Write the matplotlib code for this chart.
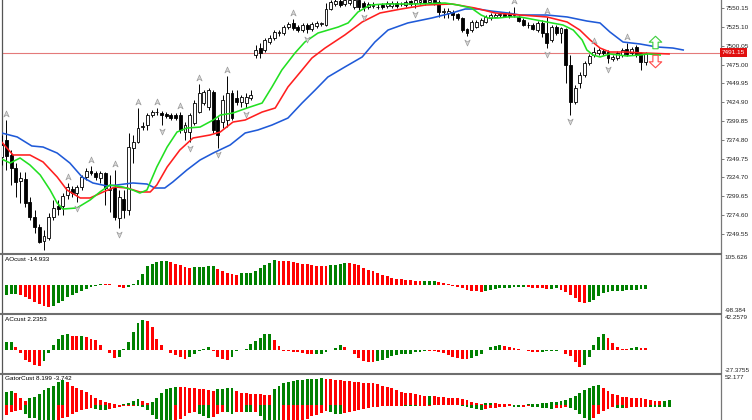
import numpy as np
import matplotlib
matplotlib.use("Agg")
import matplotlib.pyplot as plt
import matplotlib.transforms as mtransforms
from matplotlib.path import Path
from matplotlib.lines import Line2D

plt.rcParams['font.family'] = ['Liberation Sans', 'DejaVu Sans']

# ---------------- data ----------------
opens = [7352.0, 7374.7, 7354.7, 7337.4, 7320.0, 7322.7, 7292.1, 7272.1, 7258.7, 7240.1,
         7244.1, 7272.1, 7286.7, 7286.7, 7301.4, 7309.4, 7304.0, 7312.0, 7325.4, 7333.4,
         7330.7, 7324.0, 7330.7, 7308.0, 7310.7, 7270.7, 7296.1, 7281.4, 7364.0, 7372.0,
         7391.9, 7394.6, 7407.9, 7411.9, 7410.6, 7409.3, 7407.9, 7407.9, 7407.9, 7385.3,
         7385.3, 7397.3, 7411.9, 7423.9, 7418.6, 7438.6, 7401.3, 7398.6, 7401.3, 7437.3,
         7430.6, 7425.3, 7423.9, 7430.6, 7487.9, 7497.2, 7494.6, 7505.2, 7510.6, 7517.2,
         7517.2, 7525.2, 7530.6, 7525.2, 7521.2, 7527.9, 7522.6, 7526.6, 7529.2, 7527.9,
         7549.2, 7555.9, 7559.9, 7555.9, 7557.2, 7551.9, 7561.2, 7557.2, 7551.9, 7553.2,
         7551.9, 7554.5, 7553.2, 7553.2, 7557.2, 7555.9, 7554.5, 7559.9, 7557.2, 7558.5,
         7561.2, 7558.5, 7561.2, 7558.5, 7545.2, 7543.9, 7545.2, 7542.5, 7537.2, 7522.6,
         7521.2, 7525.2, 7527.9, 7531.9, 7537.2, 7538.6, 7541.2, 7542.5, 7543.9, 7541.2,
         7538.6, 7534.6, 7527.9, 7527.9, 7521.2, 7530.6, 7517.2, 7507.9, 7525.2, 7517.2,
         7522.6, 7474.6, 7425.3, 7450.6, 7461.3, 7477.3, 7487.9, 7490.6, 7493.2, 7491.9,
         7482.6, 7483.9, 7487.9, 7495.9, 7490.6, 7498.6, 7490.6, 7478.6]
highs = [7381.3, 7401.3, 7361.3, 7344.0, 7332.0, 7332.0, 7298.7, 7281.4, 7262.7, 7254.7,
         7277.4, 7294.7, 7294.7, 7304.0, 7317.4, 7313.4, 7314.7, 7328.0, 7337.4, 7339.9,
         7333.4, 7333.4, 7332.0, 7328.0, 7334.7, 7308.0, 7308.0, 7384.0, 7381.3, 7417.3,
         7398.6, 7410.6, 7414.6, 7417.3, 7413.2, 7411.9, 7410.6, 7410.6, 7411.9, 7398.6,
         7410.6, 7427.9, 7449.3, 7441.3, 7443.9, 7441.3, 7405.3, 7434.6, 7459.9, 7441.3,
         7441.3, 7434.6, 7437.3, 7441.3, 7501.2, 7503.9, 7510.6, 7514.6, 7521.2, 7521.2,
         7527.9, 7531.9, 7535.9, 7527.9, 7530.6, 7530.6, 7531.9, 7533.2, 7531.9, 7557.2,
         7561.2, 7563.9, 7562.5, 7565.2, 7565.2, 7563.9, 7562.5, 7559.9, 7558.5, 7558.5,
         7555.9, 7557.2, 7559.9, 7559.9, 7559.9, 7558.5, 7561.2, 7561.2, 7563.9, 7565.2,
         7563.9, 7563.9, 7562.5, 7561.2, 7550.5, 7550.5, 7547.9, 7543.9, 7538.6, 7523.9,
         7534.6, 7534.6, 7537.2, 7541.2, 7543.9, 7543.9, 7543.9, 7543.9, 7546.5, 7551.9,
         7541.2, 7537.2, 7531.9, 7530.6, 7533.2, 7534.6, 7538.6, 7527.9, 7527.9, 7525.2,
         7523.9, 7487.9, 7447.9, 7465.3, 7479.9, 7489.3, 7498.6, 7497.2, 7495.9, 7494.6,
         7487.9, 7493.2, 7497.2, 7503.9, 7498.6, 7501.2, 7491.9, 7491.9]
lows = [7341.4, 7334.7, 7314.7, 7298.7, 7290.7, 7285.4, 7268.1, 7250.8, 7237.4, 7228.1,
        7241.4, 7268.1, 7274.7, 7274.7, 7296.1, 7298.7, 7292.1, 7308.0, 7321.4, 7328.0,
        7321.4, 7317.4, 7288.1, 7278.7, 7268.1, 7257.4, 7270.7, 7274.7, 7344.0, 7370.7,
        7388.0, 7388.0, 7405.3, 7407.9, 7394.6, 7403.9, 7401.3, 7401.3, 7384.0, 7374.7,
        7372.0, 7394.6, 7410.6, 7421.3, 7414.6, 7384.0, 7364.0, 7390.6, 7391.9, 7401.3,
        7421.3, 7418.6, 7417.3, 7427.9, 7483.9, 7483.9, 7491.9, 7502.6, 7507.9, 7513.2,
        7514.6, 7522.6, 7521.2, 7518.6, 7518.6, 7517.2, 7519.9, 7523.9, 7526.6, 7526.6,
        7547.9, 7553.2, 7551.9, 7553.2, 7554.5, 7549.2, 7547.9, 7546.5, 7549.2, 7550.5,
        7549.2, 7549.2, 7550.5, 7550.5, 7550.5, 7553.2, 7551.9, 7553.2, 7550.5, 7555.9,
        7554.5, 7555.9, 7554.5, 7538.6, 7537.2, 7537.2, 7534.6, 7534.6, 7518.6, 7513.2,
        7518.6, 7523.9, 7526.6, 7530.6, 7534.6, 7537.2, 7538.6, 7538.6, 7537.2, 7538.6,
        7531.9, 7526.6, 7523.9, 7521.2, 7518.6, 7511.9, 7497.2, 7505.2, 7514.6, 7503.9,
        7450.6, 7407.9, 7422.6, 7443.9, 7458.6, 7474.6, 7485.3, 7487.9, 7487.9, 7477.3,
        7479.9, 7481.3, 7485.3, 7486.6, 7487.9, 7485.3, 7467.9, 7474.6]
closes = [7368.0, 7353.3, 7337.4, 7318.7, 7324.0, 7290.7, 7272.1, 7258.7, 7238.8, 7246.8,
          7272.1, 7284.1, 7282.7, 7300.1, 7312.0, 7304.0, 7312.0, 7325.4, 7333.4, 7330.7,
          7325.4, 7330.7, 7310.7, 7309.4, 7272.1, 7298.7, 7281.4, 7365.3, 7372.0, 7390.6,
          7393.3, 7407.9, 7411.9, 7411.9, 7407.9, 7406.6, 7403.9, 7403.9, 7388.0, 7394.6,
          7407.9, 7423.9, 7437.3, 7438.6, 7441.3, 7388.0, 7381.3, 7427.9, 7437.3, 7403.9,
          7425.3, 7431.9, 7431.9, 7434.6, 7494.6, 7490.6, 7507.9, 7510.6, 7518.6, 7517.9,
          7525.2, 7529.2, 7523.9, 7521.2, 7527.9, 7522.6, 7529.2, 7530.6, 7529.9, 7549.2,
          7558.5, 7559.9, 7554.5, 7561.2, 7561.2, 7561.2, 7551.9, 7551.9, 7555.9, 7553.9,
          7552.5, 7551.9, 7557.2, 7557.2, 7553.2, 7556.5, 7558.5, 7555.9, 7561.2, 7561.2,
          7557.2, 7561.2, 7557.2, 7545.2, 7545.9, 7546.5, 7541.2, 7537.2, 7521.2, 7517.2,
          7531.9, 7531.9, 7534.6, 7538.6, 7541.2, 7541.2, 7541.9, 7539.9, 7539.9, 7541.9,
          7533.2, 7527.9, 7528.5, 7522.6, 7530.6, 7517.2, 7503.9, 7525.2, 7517.2, 7523.9,
          7474.6, 7425.3, 7443.9, 7461.3, 7477.3, 7486.6, 7491.9, 7494.6, 7490.6, 7483.9,
          7485.3, 7490.6, 7494.6, 7489.3, 7495.9, 7487.9, 7478.6, 7491.15]

# Alligator lines (already shown with their forward shift), x in bar units
jaw_x = [0, 3.3, 6.4, 8.8, 11.8, 14.5, 17.1, 19.4, 22.4, 24.5, 27.9, 30.9, 32.6, 34.7, 36.4,
         39.4, 42.2, 45.0, 48.6, 51.8, 54.5, 57.5, 60.9, 63.9, 66.7, 69.4, 73.0, 76.7, 79.4,
         82.2, 86.4, 91.5, 95.8, 98.6, 101.3, 104.1, 107.7, 110.3, 116.0, 120.3, 124.5, 127.3,
         129.4, 132.2, 135.8, 139.4, 142.8, 145.0]
jaw_p = [7384.0, 7378.7, 7366.7, 7365.3, 7357.3, 7344.0, 7325.4, 7317.4, 7313.4, 7314.7,
         7317.4, 7316.0, 7310.7, 7310.7, 7318.7, 7334.7, 7348.0, 7357.3, 7368.0, 7384.0,
         7388.0, 7394.6, 7403.9, 7423.9, 7441.3, 7458.6, 7471.9, 7485.3, 7505.2, 7521.2,
         7530.6, 7537.2, 7543.9, 7549.2, 7549.2, 7546.5, 7543.9, 7541.2, 7541.2, 7538.6,
         7533.2, 7530.6, 7518.6, 7505.2, 7502.6, 7498.6, 7497.2, 7494.6]
teeth_x = [0, 2.4, 6.0, 8.8, 11.8, 13.9, 16.7, 18.8, 21.6, 24.1, 26.7, 29.4, 31.6, 33.0, 35.2,
           37.9, 40.7, 44.3, 46.5, 49.2, 51.8, 55.4, 58.2, 60.9, 63.9, 66.0, 68.8, 73.0, 76.7,
           80.5, 85.0, 90.1, 95.8, 100.7, 105.0, 110.3, 116.0, 120.3, 123.0, 125.2, 127.3,
           129.4, 133.0, 136.5, 142.0]
teeth_p = [7372.0, 7354.7, 7354.7, 7345.4, 7325.4, 7308.0, 7297.4, 7297.4, 7305.4, 7312.0,
           7310.7, 7305.4, 7305.4, 7314.7, 7338.7, 7361.3, 7377.3, 7381.3, 7385.3, 7398.6,
           7401.3, 7411.9, 7417.3, 7445.3, 7467.9, 7483.9, 7497.2, 7514.6, 7531.9, 7543.9,
           7549.2, 7554.5, 7555.9, 7550.5, 7543.9, 7541.2, 7538.6, 7531.9, 7521.2, 7507.9,
           7497.2, 7491.9, 7491.9, 7490.6, 7489.3]
lips_x = [0, 1.8, 3.9, 6.0, 8.2, 10.3, 11.8, 13.0, 16.0, 18.8, 20.9, 23.0, 25.8, 27.9, 29.4,
          30.9, 33.0, 35.2, 37.3, 39.4, 42.2, 45.0, 46.5, 49.2, 52.2, 55.4, 57.5, 59.6, 62.4,
          64.5, 67.3, 71.6, 73.7, 75.8, 78.4, 81.6, 88.6, 94.3, 97.1, 99.9, 102.0, 103.5,
          105.6, 107.7, 110.3, 116.0, 119.4, 121.6, 123.5, 124.5, 125.8, 127.3, 129.4, 133.0,
          135.8, 137.5, 140.1]
lips_p = [7349.3, 7344.0, 7350.7, 7341.4, 7328.0, 7308.0, 7290.7, 7282.7, 7284.1, 7294.7,
          7305.4, 7314.7, 7312.0, 7308.0, 7304.0, 7308.0, 7338.7, 7365.3, 7385.3, 7390.6,
          7391.9, 7401.3, 7407.9, 7410.6, 7417.3, 7423.9, 7445.3, 7467.9, 7490.6, 7505.2,
          7517.2, 7525.2, 7530.6, 7545.2, 7554.5, 7555.9, 7555.9, 7557.2, 7554.5, 7550.5,
          7541.2, 7537.2, 7537.2, 7538.6, 7538.6, 7531.9, 7527.9, 7521.2, 7507.9, 7494.6,
          7487.9, 7485.3, 7489.3, 7486.6, 7487.9, 7489.3, 7487.9]

fractal_up_bars = [1, 14, 19, 24, 29, 33, 38, 42, 48, 62, 109, 116, 126, 133]
fractal_down_bars = [9, 16, 25, 34, 40, 46, 52, 65, 77, 88, 99, 116, 121, 129]

signal_bar = 139
signal_up_price = 7504.6
signal_down_price = 7480.0

ao = [-42, -35, -33, -32, -35, -41, -50, -59, -67, -74,
      -76, -73, -64, -55, -43, -35, -29, -21, -14, -8,
      -4, 4, 3, 2, -1, -8, -9, -6, 4, 16,
      40, 66, 75, 81, 83, 84, 81, 75, 69, 63,
      61, 62, 63, 64, 66, 67, 58, 49, 42, 40,
      37, 42, 43, 44, 51, 61, 69, 77, 87, 85,
      84, 83, 81, 79, 75, 73, 69, 68, 67, 66,
      69, 72, 75, 77, 76, 75, 69, 61, 54, 49,
      42, 36, 31, 26, 22, 20, 19, 16, 15, 14,
      14.5, 15, 15.5, 12, 7, 2, -2, -7, -12, -16,
      -20, -22, -24, -21, -16, -13, -11, -10, -9, -8,
      -7, -6, -7, -9, -10, -12, -15, -13, -12, -18,
      -23, -35, -47, -59, -64, -61, -51, -38, -27, -23,
      -22, -21, -20, -18, -17, -15.8, -15.2, -14.933]
ac = [9.2, 9.6, 9.8, 4.0, -2.8, -12, -14, -18, -19, -13,
      -2.8, 6, 14, 18.8, 20, 16.8, 16.6, 16.9, 15.6, 14,
      12, 6, 0.8, -2.8, -9.2, -8, 2, 10, 22, 32.8,
      36.8, 35.2, 28, 14, 6, 0.8, -3.2, -6, -8, -10,
      -8, -4, -0.8, 2, 4, -0.8, -8, -10, -11.2, -8,
      -1.2, 0.8, 1.6, 8, 11.2, 15.2, 19.2, 20, 12, 4.8,
      -0.8, -1.2, -1.6, -2, -2.8, -4, -4.8, -4.4, -4, -2,
      0.2, 3.2, 6, 4, 0, -4, -8.8, -13.2, -14, -14.4,
      -12.8, -11.2, -8.8, -7.2, -6, -4.8, -4.6, -4, -2.4, -1.6,
      -0.8, -0.9, -1.2, -1.6, -3.2, -6, -8, -8.8, -10, -10.2,
      -8.8, -7.2, -4, 0.8, 4, 5.2, 6.4, 4.8, 4, 3.2,
      1.6, 0.1, -0.8, -1.6, -2.4, -2, -1.2, -0.8, -0.6, 0,
      -4, -7.2, -14, -20, -18, -8, 6, 16, 20, 15.2,
      9, 3.5, 2.0, 1.8, 2.6, 3.4, 2.8, 2.2353]
gator_up = [17.4, 23.2, 24.4, 21.5, 11.6, 7.0, 11.6, 14.5, 18.6, 26.0,
            29.0, 33.6, 40.6, 43.5, 40.6, 33.6, 29.0, 26.0, 22.0, 17.4,
            12.8, 8.7, 5.8, 2.9, 1.2, 0.6, 1.5, 4.0, 7.5, 9.9,
            7.5, 4.0, 6.0, 11.6, 20.3, 27.3, 30.2, 31.9, 31.5, 30.7,
            30.0, 29.5, 28.4, 27.3, 26.1, 25.0, 27.0, 28.4, 29.6, 30.2,
            24.0, 21.0, 20.3, 19.7, 19.1, 18.6, 18.0, 17.4, 27.0, 33.6,
            37.7, 40.0, 41.8, 43.5, 44.1, 44.7, 45.2, 45.8, 46.4, 45.0,
            44.7, 44.1, 43.5, 42.3, 41.2, 40.0, 39.4, 38.9, 38.3, 37.7,
            36.5, 33.0, 30.7, 29.0, 26.0, 23.0, 21.5, 20.3, 19.0, 17.4,
            16.2, 16.5, 15.7, 14.5, 13.3, 12.8, 12.2, 11.6, 10.4, 8.7,
            5.8, 2.9, 1.7, 2.9, 3.5, 2.9, 2.3, 1.7, 1.2, 0.6,
            0.3, 0.6, 1.2, 1.7, 2.3, 2.9, 3.5, 4.6, 5.8, 7.0,
            8.7, 11.6, 15.1, 20.3, 25.5, 29.0, 32.5, 34.8, 30.2, 24.4,
            19.7, 17.4, 14.5, 13.9, 12.8, 12.2, 11.6, 10.4, 9.3, 7.5,
            6.4, 7.5, 8.199]
gator_down = [-23.2, -17.4, -11.6, -10.4, -8.7, -16.2, -22.0, -23.2, -26.0, -29.0,
              -30.0, -31.0, -29.0, -23.2, -20.3, -16.2, -11.6, -8.7, -7.0, -5.8,
              -7.0, -8.7, -8.9, -7.0, -4.6, -3.0, -2.0, -1.2, -1.0, -1.5,
              -3.0, -9.0, -17.0, -24.0, -27.0, -30.0, -31.0, -30.0, -24.0, -19.0,
              -14.0, -12.0, -15.0, -19.0, -23.0, -21.0, -16.0, -12.0, -13.0, -15.0,
              -13.0, -12.0, -12.5, -13.0, -12.0, -20.0, -27.0, -31.0, -33.0, -34.0,
              -33.0, -32.0, -31.0, -29.0, -27.0, -24.0, -20.0, -17.0, -14.0, -11.0,
              -13.0, -15.0, -16.0, -14.0, -13.0, -11.0, -9.0, -7.0, -5.0, -4.0,
              -3.0, -2.5, -2.0, -1.5, -1.2, -1.0, -1.5, -2.0, -2.5, -2.0,
              -1.5, -1.0, -0.8, -0.6, -0.5, -0.4, -0.3, -0.6, -1.5, -3.0,
              -5.0, -7.0, -8.0, -7.0, -6.0, -5.0, -4.0, -3.0, -2.5, -3.0,
              -3.5, -3.0, -2.5, -3.0, -4.0, -5.0, -6.0, -7.0, -6.0, -5.0,
              -4.0, -6.0, -9.0, -15.0, -22.0, -27.0, -22.0, -16.0, -10.0, -7.0,
              -4.0, -4.5, -5.0, -4.5, -4.0, -3.5, -3.0, -2.8, -3.0, -3.2,
              -3.4, -3.6, -3.742]

price_ticks = [7550.15, 7525.10, 7500.05, 7475.00, 7449.95, 7424.90, 7399.85,
               7374.80, 7349.75, 7324.70, 7299.65, 7274.60, 7249.55]
last_price = 7491.15
price_range = (7224.1, 7561.2)
ao_range = (-98.384, 105.626)
ac_range = (-27.3755, 42.2579)
gator_top = 52.177
gator_bottom = -26.1

# ---------------- styles ----------------
GREEN = '#008000'
RED = '#ff0000'
FS = 4.6

W, H = 752, 420
fig = plt.figure(figsize=(W / 100, H / 100), dpi=100)
fig.patch.set_facecolor('white')
L, R = 2, 721


def rect(top, bottom):
    return [L / W, 1 - bottom / H, (R - L) / W, (bottom - top) / H]


ax = fig.add_axes(rect(0, 253))
ax_ao = fig.add_axes(rect(255, 313))
ax_ac = fig.add_axes(rect(315, 373))
ax_g = fig.add_axes(rect(375, 420))

xlim = (0.064, 153.04)
for a in (ax, ax_ao, ax_ac, ax_g):
    a.set_xlim(*xlim)
    a.set_xticks([])
    a.set_facecolor('white')
    for s in ('top', 'bottom'):
        a.spines[s].set_visible(False)
    a.spines['left'].set_color('#555555')
    a.spines['left'].set_linewidth(0.9)
    a.spines['right'].set_color('#777777')
    a.spines['right'].set_linewidth(0.9)

# ---------------- candles ----------------
o = np.array(opens); h = np.array(highs); l = np.array(lows); c = np.array(closes)
idx = np.arange(len(o))
bull = c >= o
ax.vlines(idx, l, h, color='black', lw=0.7, zorder=3)
bw = 0.62
ax.bar(idx[bull], (c - o)[bull], bottom=o[bull], width=bw, facecolor='white',
       edgecolor='black', linewidth=0.6, zorder=4)
ax.bar(idx[~bull], (o - c)[~bull], bottom=c[~bull], width=bw, facecolor='black',
       edgecolor='black', linewidth=0.6, zorder=4)

ax.axhline(last_price, color='#e47a7a', lw=0.8, zorder=2)

ax.plot(jaw_x, jaw_p, color='#1f5ad8', lw=1.15, zorder=5)
ax.plot(teeth_x, teeth_p, color='#ff1f1f', lw=1.15, zorder=5)
ax.plot(lips_x, lips_p, color='#22e022', lw=1.15, zorder=5)

# fractals
fv = [(0, 1), (0.75, -0.7), (0, -0.15), (-0.75, -0.7), (0, 1)]
codes = [Path.MOVETO, Path.LINETO, Path.LINETO, Path.LINETO, Path.CLOSEPOLY]
up_path = Path(fv, codes)
down_path = Path([(x, -y) for x, y in fv], codes)
tr_up = mtransforms.offset_copy(ax.transData, fig=fig, x=0, y=6, units='dots')
tr_dn = mtransforms.offset_copy(ax.transData, fig=fig, x=0, y=-6, units='dots')
ax.plot(fractal_up_bars, h[fractal_up_bars], ls='none', marker=up_path, ms=5,
        mfc='#dcdcdc', mec='#9a9a9a', mew=0.5, transform=tr_up, zorder=6, clip_on=True)
ax.plot(fractal_down_bars, l[fractal_down_bars], ls='none', marker=down_path, ms=5,
        mfc='#dcdcdc', mec='#9a9a9a', mew=0.5, transform=tr_dn, zorder=6, clip_on=True)

# signal arrows
sv = [(0, 1), (1, 0.05), (0.42, 0.05), (0.42, -1), (-0.42, -1), (-0.42, 0.05), (-1, 0.05), (0, 1)]
scodes = [Path.MOVETO] + [Path.LINETO] * 6 + [Path.CLOSEPOLY]
sig_up = Path(sv, scodes)
sig_dn = Path([(x, -y) for x, y in sv], scodes)
ax.plot([signal_bar], [signal_up_price], ls='none', marker=sig_up, ms=9,
        mfc='white', mec='#3ccf3c', mew=0.8, zorder=6)
ax.plot([signal_bar], [signal_down_price], ls='none', marker=sig_dn, ms=9,
        mfc='white', mec='#ff4a4a', mew=0.8, zorder=6)

ax.set_ylim(*price_range)
ax.yaxis.tick_right()
ax.set_yticks(price_ticks)
ax.set_yticklabels([f"{v:.2f}" for v in price_ticks])
ax.tick_params(axis='y', length=2.5, width=0.6, pad=1, labelsize=FS, color='#666666',
               labelcolor='#222222')

ax.text(1.0015, last_price, f"{last_price:.2f}", transform=ax.get_yaxis_transform(),
        ha='left', va='center', fontsize=FS, color='white', zorder=10, clip_on=False,
        bbox=dict(boxstyle='square,pad=0.25', fc='#e01010', ec='none'))


# ---------------- histograms ----------------
def change_colors(vals, use_abs=False):
    v = np.abs(vals) if use_abs else np.asarray(vals, dtype=float)
    cols = [GREEN]
    for i in range(1, len(v)):
        cols.append(GREEN if v[i] > v[i - 1] else RED)
    return cols


hw = 0.6
ax_ao.bar(np.arange(len(ao)), ao, width=hw, color=change_colors(ao), linewidth=0)
ax_ao.set_ylim(*ao_range)
ax_ac.bar(np.arange(len(ac)), ac, width=hw, color=change_colors(ac), linewidth=0)
ax_ac.set_ylim(*ac_range)
ax_g.bar(np.arange(len(gator_up)), gator_up, width=hw,
         color=change_colors(gator_up, True), linewidth=0)
ax_g.bar(np.arange(len(gator_down)), gator_down, width=hw,
         color=change_colors(gator_down, True), linewidth=0)
ax_g.set_ylim(gator_bottom, gator_top)

for a in (ax_ao, ax_ac, ax_g):
    a.set_yticks([])

ax_ao.text(0.004, 0.93, f"AOcust {ao[-1]:.3f}", transform=ax_ao.transAxes,
           fontsize=FS, va='center', ha='left')
ax_ac.text(0.004, 0.93, f"ACcust {ac[-1]:.4f}", transform=ax_ac.transAxes,
           fontsize=FS, va='center', ha='left')
ax_g.text(0.004, 0.915, f"GatorCust {gator_up[-1]:.3f} {gator_down[-1]:.3f}",
          transform=ax_g.transAxes, fontsize=FS, va='center', ha='left')

ax_ao.text(1.005, 1.0, f"{ao_range[1]:.3f}", transform=ax_ao.transAxes, fontsize=FS,
           va='top', ha='left', color='#222222')
ax_ao.text(1.005, 0.0, f"{ao_range[0]:.3f}", transform=ax_ao.transAxes, fontsize=FS,
           va='bottom', ha='left', color='#222222')
ax_ac.text(1.005, 1.0, f"{ac_range[1]:.4f}", transform=ax_ac.transAxes, fontsize=FS,
           va='top', ha='left', color='#222222')
ax_ac.text(1.005, 0.0, f"{ac_range[0]:.4f}", transform=ax_ac.transAxes, fontsize=FS,
           va='bottom', ha='left', color='#222222')
ax_g.text(1.005, 1.0, f"{gator_top:.3f}", transform=ax_g.transAxes, fontsize=FS,
          va='top', ha='left', color='#222222')

# panel separators
for ysep in (254, 314, 374):
    fig.add_artist(Line2D([0, R / W], [1 - ysep / H] * 2, transform=fig.transFigure,
                          color='#6e6e6e', lw=1.5))

fig.savefig('out.png', dpi=100)
